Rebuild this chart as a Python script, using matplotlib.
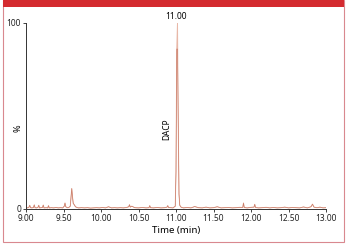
import matplotlib
matplotlib.use("Agg")
import matplotlib.pyplot as plt
from matplotlib.patches import Rectangle

plt.rcParams['font.family'] = ['Noto Sans', 'DejaVu Sans']

# chromatogram trace (time in min, relative intensity in %)
tiempo = [9.00, 9.02, 9.04, 9.05, 9.06, 9.08, 9.10, 9.11, 9.12, 9.14, 9.16, 9.17, 9.18, 9.20,
          9.22, 9.23, 9.24, 9.27, 9.29, 9.30, 9.31, 9.34, 9.37, 9.40, 9.43, 9.46, 9.49, 9.51,
          9.52, 9.53, 9.55, 9.57, 9.59, 9.60, 9.61, 9.62, 9.63, 9.64, 9.66, 9.68, 9.70, 9.74,
          9.78, 9.82, 9.86, 9.90, 9.94, 9.98, 10.02, 10.06, 10.10, 10.14, 10.18, 10.22, 10.26,
          10.30, 10.34, 10.37, 10.38, 10.39, 10.41, 10.45, 10.50, 10.55, 10.60, 10.64, 10.65,
          10.66, 10.70, 10.75, 10.80, 10.85, 10.88, 10.89, 10.90, 10.93, 10.96, 10.99, 11.00,
          11.01, 11.02, 11.03, 11.04, 11.05, 11.07, 11.10, 11.15, 11.20, 11.25, 11.30, 11.35,
          11.40, 11.45, 11.50, 11.55, 11.60, 11.65, 11.70, 11.75, 11.80, 11.85, 11.89, 11.90,
          11.91, 11.95, 12.00, 12.04, 12.05, 12.06, 12.10, 12.15, 12.20, 12.25, 12.30, 12.35,
          12.40, 12.45, 12.50, 12.55, 12.60, 12.65, 12.70, 12.75, 12.80, 12.82, 12.84, 12.88,
          12.92, 12.96, 13.00]
intensidad = [0.8, 0.6, 1.0, 2.0, 0.7, 0.6, 0.8, 2.2, 0.7, 0.6, 0.9, 2.0, 0.6, 0.7,
              0.8, 2.1, 0.6, 0.7, 0.6, 1.8, 0.6, 0.7, 0.6, 0.8, 0.6, 0.7, 0.6, 1.5,
              3.2, 1.2, 0.7, 0.8, 1.5, 6.0, 11.0, 6.5, 3.0, 2.5, 1.2, 0.8, 0.6, 0.7,
              0.6, 0.7, 0.5, 0.6, 0.7, 0.6, 0.8, 0.6, 1.2, 0.6, 0.7, 0.6, 0.7,
              0.6, 0.8, 1.2, 2.3, 1.0, 1.5, 0.7, 0.6, 0.8, 0.6, 0.7, 1.8,
              0.7, 0.6, 0.8, 0.6, 0.7, 1.0, 1.8, 0.8, 0.7, 0.6, 1.5, 20.0,
              86.0, 100.0, 45.0, 8.0, 2.0, 0.9, 0.6, 0.8, 0.6, 1.3, 0.7, 0.6,
              1.0, 0.6, 0.7, 1.2, 0.6, 0.7, 0.8, 0.6, 0.7, 0.9, 0.8, 3.2,
              0.8, 0.6, 0.9, 1.0, 2.5, 0.8, 0.6, 0.7, 0.9, 0.6, 0.8, 0.6,
              0.7, 1.0, 0.6, 0.8, 0.7, 0.6, 1.1, 0.6, 1.2, 2.6, 1.0, 0.7,
              1.0, 0.6, 0.7]

ticks_x = [9.0, 9.5, 10.0, 10.5, 11.0, 11.5, 12.0, 12.5, 13.0]
ticks_y = [0, 100]
pico_t = 11.00
pico_nombre = "DACP"

fig = plt.figure(figsize=(3.5, 2.44), dpi=100)

# marco y barra roja superior
fig.patches.append(Rectangle((3/350, 2/244), 341/350, 242/244, transform=fig.transFigure,
                             fill=False, edgecolor='#d9888f', linewidth=0.8))
fig.patches.append(Rectangle((3/350, 1 - 7/244), 341/350, 7/244, transform=fig.transFigure,
                             facecolor='#d42a2f', edgecolor='none'))

ax = fig.add_axes([26/350, 1 - 209/244, 300/350, 186/244])
ax.plot(tiempo, intensidad, color='#e8b8a8', linewidth=0.7)
ax.plot(tiempo, [min(v, 86.0) for v in intensidad], color='#c97a66', linewidth=0.45)

ax.set_xlim(9.0, 13.0)
ax.set_ylim(0, 100)
ax.set_xticks(ticks_x)
ax.set_xticklabels([f"{t:.2f}" for t in ticks_x])
ax.set_yticks(ticks_y)
ax.tick_params(labelsize=6, length=2.5, width=0.6, pad=1, colors='#222222')
for s in ['top', 'right']:
    ax.spines[s].set_visible(False)
for s in ['left', 'bottom']:
    ax.spines[s].set_linewidth(0.7)
    ax.spines[s].set_color('#333333')

ax.set_xlabel("Time (min)", fontsize=7, labelpad=2)
fig.text(18/350, 1 - 128/244, "%", fontsize=6.5, rotation=90, ha='center', va='center')

ax.text(pico_t, 101.2, f"{pico_t:.2f}", fontsize=6, ha='center', va='bottom', clip_on=False)
ax.text(pico_t - 0.12, 43, pico_nombre, fontsize=6, rotation=90, ha='center', va='center')

fig.savefig("out.png", dpi=100)
